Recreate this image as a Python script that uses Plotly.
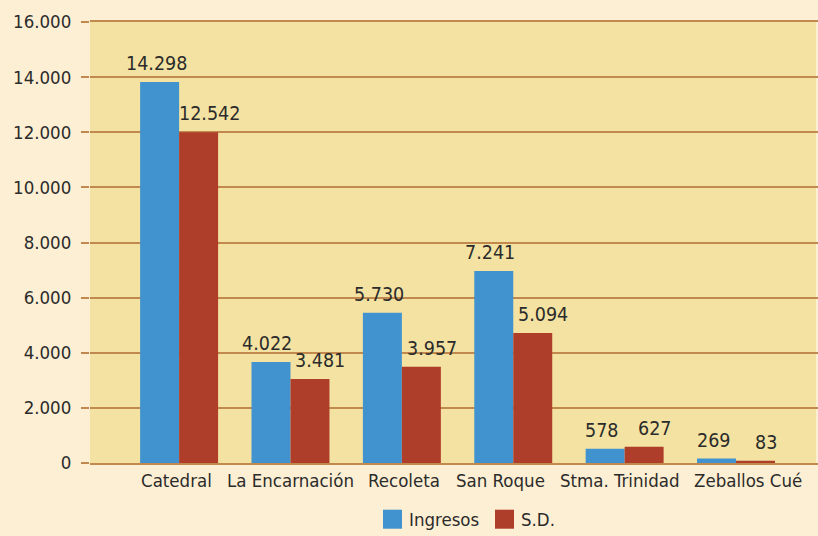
import plotly.graph_objects as go

# parroquias (x categories)
categories = ["Catedral", "La Encarnación", "Recoleta", "San Roque", "Stma. Trinidad", "Zeballos Cué"]

# bar heights as drawn in the picture (they sit a bit below the printed numbers)
ingresos = [13820, 3660, 5450, 6970, 520, 160]
sd = [12000, 3050, 3490, 4720, 590, 80]

# numbers printed above the bars
ingresos_labels = ["14.298", "4.022", "5.730", "7.241", "578", "269"]
sd_labels = ["12.542", "3.481", "3.957", "5.094", "627", "83"]

y_ticks = [0, 2000, 4000, 6000, 8000, 10000, 12000, 14000, 16000]

BLUE = "#4193cf"
RED = "#ae3e2a"
PAPER = "#fdefd3"
PLOT_BG = "#f3e2a1"
GRID = "#c2894f"
TEXT = "#2b2b2b"
FONT = "DejaVu Sans Condensed, Liberation Sans Narrow, sans-serif"

# the original nudges some category labels sideways (pixels)
label_nudge = [-3, 0, 2, -13, -5, 12]

fig = go.Figure()
fig.add_trace(go.Bar(x=categories, y=ingresos, name="Ingresos", marker_color=BLUE,
                     marker_line_width=0, showlegend=False))
fig.add_trace(go.Bar(x=categories, y=sd, name="S.D.", marker_color=RED,
                     marker_line_width=0, showlegend=False))

# value labels as annotations so each one can be nudged like the original
for cat, h, lab in zip(categories, ingresos, ingresos_labels):
    fig.add_annotation(x=cat, y=h, text=lab, showarrow=False, xanchor="center", yanchor="bottom",
                       xshift=-23, yshift=5, font=dict(size=19.5, color=TEXT, family=FONT))
for cat, h, lab in zip(categories, sd, sd_labels):
    fig.add_annotation(x=cat, y=h, text=lab, showarrow=False, xanchor="center", yanchor="bottom",
                       xshift=30, yshift=5, font=dict(size=19.5, color=TEXT, family=FONT))

# category names under the axis
for cat, dx in zip(categories, label_nudge):
    fig.add_annotation(x=cat, y=0, text=cat, showarrow=False, xanchor="center", yanchor="top",
                       xshift=dx, yshift=-5, font=dict(size=18.5, color=TEXT, family=FONT))

# the yellow panel stops a couple of pixels short of the right edge; gridlines don't
fig.add_shape(type="rect", xref="paper", yref="paper", x0=0.9973, x1=1.0, y0=0, y1=1,
              fillcolor=PAPER, line_width=0, layer="below")

# hand-drawn legend under the axis (plotly's bar swatches are too small)
legend_items = [("Ingresos", BLUE, 0.4025), ("S.D.", RED, 0.5563)]
for name, color, x0 in legend_items:
    fig.add_shape(type="rect", xref="paper", yref="paper", x0=x0, x1=x0 + 0.0261,
                  y0=-0.149, y1=-0.1059, fillcolor=color, line_width=0)
    fig.add_annotation(xref="paper", yref="paper", x=x0 + 0.0335, y=-0.1286, text=name,
                       showarrow=False, xanchor="left", yanchor="middle",
                       font=dict(size=18.5, color=TEXT, family=FONT))

# x axis line mirrored to the top stands in for the 0 and 16.000 gridlines
fig.update_xaxes(range=[-0.8, 5.736], showgrid=False, zeroline=False,
                 showline=True, linecolor=GRID, linewidth=1.5, mirror=True,
                 showticklabels=False, ticks="", automargin=False)
fig.update_yaxes(range=[0, 16000], tickvals=y_ticks, tickformat=",d", showgrid=True,
                 gridcolor=GRID, gridwidth=1.5, zeroline=False, showline=False,
                 ticks="outside", ticklen=8, tickcolor=GRID, tickwidth=1.5, automargin=False,
                 ticklabelstandoff=6, tickfont=dict(size=18.5, color=TEXT, family=FONT))
fig.update_layout(
    width=818,
    height=536,
    barmode="group",
    bargap=0.30,
    bargroupgap=0,
    separators=",.",
    paper_bgcolor=PAPER,
    plot_bgcolor=PLOT_BG,
    margin=dict(l=90, r=0, t=22, b=73),
    font=dict(family=FONT, color=TEXT),
)
fig.write_html("out.html", config={"displayModeBar": False},
               post_script="document.body.style.margin='0';")
